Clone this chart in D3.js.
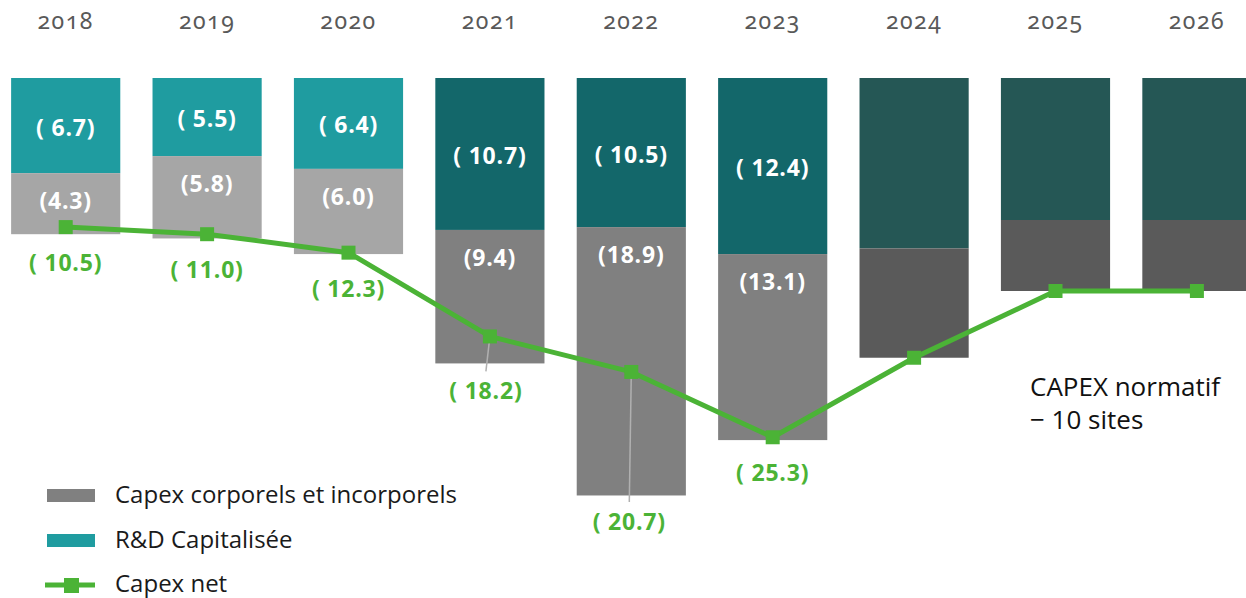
<!DOCTYPE html>
<html><head><meta charset="utf-8">
<script src="https://cdn.jsdelivr.net/npm/d3@7"></script>
<style>
html,body{margin:0;padding:0;background:#fff;}
svg{display:block;}
</style></head>
<body>
<svg id="chart" width="1246" height="598"></svg>
<script>
// ---- data ----
const years = ["2018","2019","2020","2021","2022","2023","2024","2025","2026"];
const period = ["hist","hist","hist","recent","recent","recent","proj","proj","proj"];
const rdValues = [6.7, 5.5, 6.4, 10.7, 10.5, 12.4, 12.0, 10.0, 10.0];
const capexValues = [4.3, 5.8, 6.0, 9.4, 18.9, 13.1, 7.7, 5.0, 5.0];
const netValues = [10.5, 11.0, 12.3, 18.2, 20.7, 25.3, 19.7, 15.0, 15.0];
const labelled = [true, true, true, true, true, true, false, false, false];
const legendLabels = ["Capex corporels et incorporels", "R&D Capitalisée", "Capex net"];
const noteLines = ["CAPEX normatif", "− 10 sites"];

// ---- styles ----
const rdColor = {hist:"#1f9ca0", recent:"#13676a", proj:"#255755"};
const capexColor = {hist:"#a6a6a6", recent:"#808080", proj:"#5a5a5a"};
const green = "#4bb336";
const netLabelStyle = {"2021":{dy:55, dx:-4, leader:true}, "2022":{dy:150, dx:-2, leader:true}};

const svg = d3.select("#chart");
const x = d3.scaleBand().domain(years).range([-5, -5 + 9*141.4]).paddingInner(0.228).paddingOuter(0.114);
const y = d3.scaleLinear().domain([0, 30]).range([78, 78 + 30*14.2]);

const data = years.map((yr,i)=>({yr, p:period[i], rd:rdValues[i], capex:capexValues[i], net:netValues[i], lab:labelled[i]}));

// year labels
svg.append("g").selectAll("text").data(data).join("text")
  .attr("x", d=>x(d.yr)+x.bandwidth()/2).attr("y", 29)
  .attr("text-anchor","middle")
  .style("font-family","'Noto Sans', sans-serif").style("font-size","23px")
  .style("font-variant-numeric","oldstyle-nums").style("font-feature-settings","'onum' 1")
  .style("letter-spacing","1.5px").style("fill","#595959")
  .text(d=>d.yr);

// R&D segments
svg.append("g").selectAll("rect").data(data).join("rect")
  .attr("x", d=>x(d.yr)).attr("width", x.bandwidth())
  .attr("y", y(0)).attr("height", d=>y(d.rd)-y(0))
  .attr("fill", d=>rdColor[d.p]);
// Capex segments
svg.append("g").selectAll("rect").data(data).join("rect")
  .attr("x", d=>x(d.yr)).attr("width", x.bandwidth())
  .attr("y", d=>y(d.rd)).attr("height", d=>y(d.rd+d.capex)-y(d.rd))
  .attr("fill", d=>capexColor[d.p]);

const lblFont = "'Open Sans', sans-serif";
function lbl(sel, fill){
  return sel.attr("dy","0.35em").attr("text-anchor","middle")
  .style("font-family",lblFont).style("font-weight","bold").style("font-size","23px")
  .style("letter-spacing","0.8px").style("fill",fill);
}
// R&D labels
lbl(svg.append("g").selectAll("text").data(data.filter(d=>d.lab)).join("text")
  .attr("x", d=>x(d.yr)+x.bandwidth()/2).attr("y", d=>(y(0)+y(d.rd))/2 + 2), "#fff")
  .text(d=>"( " + d.rd.toFixed(1) + ")");
// Capex labels
lbl(svg.append("g").selectAll("text").data(data.filter(d=>d.lab)).join("text")
  .attr("x", d=>x(d.yr)+x.bandwidth()/2).attr("y", d=>y(d.rd) + 28), "#fff")
  .text(d=>"(" + d.capex.toFixed(1) + ")");

// leader lines
data.filter(d=>d.lab && netLabelStyle[d.yr] && netLabelStyle[d.yr].leader).forEach(d=>{
  const s = netLabelStyle[d.yr];
  const cx = x(d.yr)+x.bandwidth()/2;
  svg.append("line").attr("x1",cx).attr("y1",y(d.net))
    .attr("x2",cx+s.dx).attr("y2",y(d.net)+s.dy-20)
    .attr("stroke","#b0b0b0").attr("stroke-width",1.5);
});

// Net line
const line = d3.line().x(d=>x(d.yr)+x.bandwidth()/2).y(d=>y(d.net));
svg.append("path").datum(data).attr("d", line)
  .attr("fill","none").attr("stroke",green).attr("stroke-width",5).attr("stroke-linejoin","round");
svg.append("g").selectAll("rect").data(data).join("rect")
  .attr("x", d=>x(d.yr)+x.bandwidth()/2-7).attr("y", d=>y(d.net)-7)
  .attr("width",14).attr("height",14).attr("fill",green);

// Net labels
lbl(svg.append("g").selectAll("text").data(data.filter(d=>d.lab)).join("text")
  .attr("x", d=>x(d.yr)+x.bandwidth()/2 + ((netLabelStyle[d.yr]||{}).dx||0))
  .attr("y", d=>y(d.net) + ((netLabelStyle[d.yr]||{}).dy||36)), green)
  .text(d=>"( " + d.net.toFixed(1) + ")");

// note
svg.append("text").attr("x",1030).attr("y",396)
  .style("font-family","'Open Sans', sans-serif").style("font-size","26px").style("fill","#111")
  .selectAll("tspan").data(noteLines).join("tspan")
  .attr("x",1030).attr("dy",(d,i)=>i?"33":0).text(d=>d);

// legend
const lg = svg.append("g").style("font-family","'Open Sans', sans-serif").style("font-size","24px").style("fill","#1a1a1a");
const ly = [495, 540, 584];
lg.append("rect").attr("x",47).attr("y",ly[0]-6).attr("width",48).attr("height",13).attr("fill",capexColor.recent);
lg.append("rect").attr("x",47).attr("y",ly[1]-6).attr("width",48).attr("height",13).attr("fill",rdColor.hist);
lg.append("line").attr("x1",45).attr("x2",95).attr("y1",ly[2]+1).attr("y2",ly[2]+1).attr("stroke",green).attr("stroke-width",5);
lg.append("rect").attr("x",64).attr("y",ly[2]-6).attr("width",15).attr("height",15).attr("fill",green);
legendLabels.forEach((t,i)=>{
  lg.append("text").attr("x",115).attr("y",ly[i]).attr("dy","0.35em").text(t);
});
</script>
</body></html>
